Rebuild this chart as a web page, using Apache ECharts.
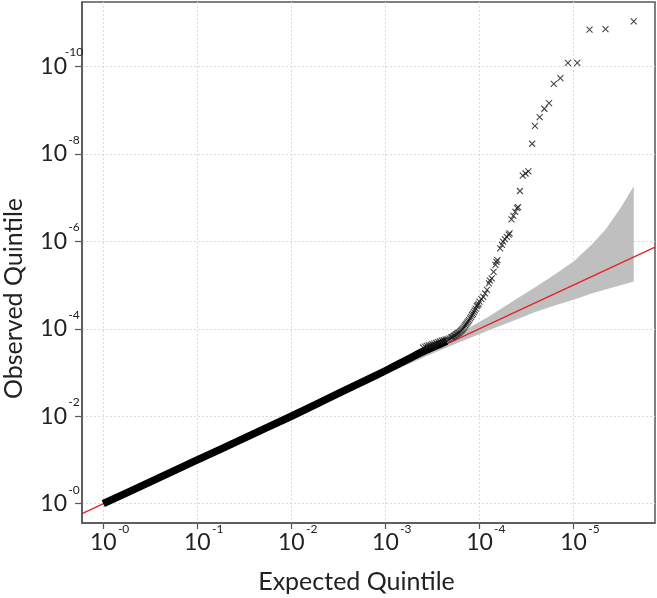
<!DOCTYPE html>
<html><head><meta charset="utf-8">
<script src="https://cdn.jsdelivr.net/npm/echarts@6/dist/echarts.min.js"></script>
<style>html,body{margin:0;padding:0;background:#fff}#c{width:657px;height:598px}</style>
</head><body><div id="c"></div><script>
// Axis ticks (-log10 scale) and their exponent labels
const xTicks = [0, 1, 2, 3, 4, 5];
const xTickExps = ['-0', '-1', '-2', '-3', '-4', '-5'];
const yTicks = [0, 2, 4, 6, 8, 10];
const yTickExps = ['-0', '-2', '-4', '-6', '-8', '-10'];
const xName = 'Expected Quintile';
const yName = 'Observed Quintile';
const xRange = [-0.226, 5.866];
const yRange = [-0.441, 11.471];

// Dense body of the QQ points (drawn as a thick run)
const bodyX = [0, 0.5, 1.0, 1.5, 2.0, 2.5, 2.8, 3.0, 3.2, 3.4, 3.55, 3.65];
const bodyY = [0, 0.5, 1.0, 1.5, 2.0, 2.52, 2.83, 3.04, 3.26, 3.48, 3.62, 3.72];

// Individual points in the tail (expected, observed)
const tailX = [3.40,3.42,3.44,3.46,3.48,3.50,3.52,3.54,3.56,3.58,3.60,3.62,3.64,3.66,3.68,3.70,3.71,3.72,3.73,3.74,3.75,3.76,3.77,3.78,3.79,3.80,3.81,3.82,3.83,3.84,3.85,3.86,3.87,3.88,3.89,3.90,3.91,3.92,3.93,3.94,3.95,3.96,3.97,3.98,3.99,4.00,4.02,4.04,4.06,4.08,4.10,4.11,4.13,4.15,4.17,4.18,4.19,4.22,4.24,4.25,4.27,4.29,4.31,4.32,4.34,4.36,4.38,4.40,4.41,4.43,4.46,4.49,4.52,4.56,4.59,4.64,4.69,4.74,4.79,4.86,4.94,5.04,5.17,5.34,5.64];
const tailY = [3.57,3.59,3.61,3.62,3.63,3.65,3.66,3.68,3.70,3.71,3.73,3.74,3.75,3.76,3.78,3.80,3.81,3.82,3.84,3.85,3.87,3.88,3.90,3.91,3.93,3.95,3.97,3.99,4.02,4.05,4.08,4.11,4.14,4.17,4.20,4.24,4.27,4.31,4.34,4.38,4.42,4.46,4.52,4.54,4.57,4.62,4.68,4.73,4.81,4.89,5.04,5.10,5.15,5.30,5.46,5.53,5.57,5.84,5.92,5.99,6.05,6.10,6.15,6.18,6.50,6.58,6.67,6.76,6.78,7.15,7.50,7.55,7.60,8.23,8.64,8.84,9.03,9.16,9.60,9.73,10.08,10.08,10.84,10.85,11.03];

// Confidence band
const bandX =     [2.6,  2.9,  3.2,  3.5,  3.8,  4.1,  4.4,  4.6,  4.8,  5.0,  5.2,  5.34, 5.5,  5.64];
const bandLower = [2.575,2.864,3.150,3.432,3.705,3.965,4.217,4.390,4.530,4.665,4.810,4.900,4.995,5.080];
const bandUpper = [2.627,2.937,3.253,3.578,3.915,4.280,4.690,4.960,5.240,5.540,5.940,6.270,6.760,7.260];

// Reference line y = x
const refX = [xRange[0], xRange[1]];

const FONT = 'Lato';
const TXT = '#222';
const richBase = {
  b: { fontSize: 23, lineHeight: 40, fontFamily: FONT, color: TXT },
  s: { fontSize: 12, lineHeight: 15, width: 14, align: 'left', verticalAlign: 'top', fontFamily: FONT, color: TXT },
  p: { width: 14, fontSize: 12 }
};

const chart = echarts.init(document.getElementById('c'), null, { renderer: 'canvas' });
chart.setOption({
  animation: false,
  backgroundColor: '#fff',
  grid: { left: 82, right: 2, top: 2, bottom: 75, show: true, borderColor: '#555', borderWidth: 1.5, containLabel: false, outerBoundsMode: 'none' },
  xAxis: {
    type: 'value', min: xRange[0], max: xRange[1],
    name: xName, nameLocation: 'middle', nameGap: 46,
    nameTextStyle: { fontSize: 25, fontFamily: FONT, color: TXT, padding: [0, 24, 0, 0] },
    axisLine: { show: true, onZero: false, lineStyle: { color: '#555', width: 1.5 } },
    axisTick: { show: true, length: 6, customValues: xTicks, lineStyle: { color: '#555', width: 1.2 } },
    axisLabel: {
      customValues: xTicks, margin: 0,
      formatter: function (v) { const i = xTicks.indexOf(Math.round(v)); return '{p|}{b|10}{s|' + xTickExps[i] + '}'; },
      rich: richBase
    },
    splitLine: { show: true, lineStyle: { color: '#dadada', width: 1, type: [2, 2] } }
  },
  yAxis: {
    type: 'value', min: yRange[0], max: yRange[1],
    name: yName, nameLocation: 'middle', nameGap: 56,
    nameTextStyle: { fontSize: 25, fontFamily: FONT, color: TXT, padding: [0, 72, 0, 0] },
    axisLine: { show: true, onZero: false, lineStyle: { color: '#555', width: 1.5 } },
    axisTick: { show: true, length: 7, customValues: yTicks, lineStyle: { color: '#555', width: 1.2 } },
    axisLabel: {
      customValues: yTicks, margin: 1,
      formatter: function (v) { const i = yTicks.indexOf(Math.round(v)); return '{b|10}{s|' + yTickExps[i] + '}'; },
      rich: richBase
    },
    splitLine: { show: true, lineStyle: { color: '#dadada', width: 1, type: [2, 2] } }
  },
  series: [
    {
      type: 'custom', silent: true, z: 1, clip: true,
      data: bandX.map((x, i) => [x, bandLower[i], bandUpper[i]]),
      encode: { x: 0, y: [1, 2] },
      renderItem: function (params, api) {
        if (params.dataIndex !== 0) return null;
        const pts = [];
        for (let i = 0; i < bandX.length; i++) pts.push(api.coord([bandX[i], bandUpper[i]]));
        for (let i = bandX.length - 1; i >= 0; i--) pts.push(api.coord([bandX[i], bandLower[i]]));
        return { type: 'polygon', shape: { points: pts }, style: { fill: '#bfbfbf' } };
      }
    },
    {
      type: 'line', z: 2, silent: true, symbol: 'none', clip: true,
      data: refX.map(x => [x, x]),
      lineStyle: { color: '#e8202a', width: 1.3 }
    },
    {
      type: 'line', z: 3, silent: true, symbol: 'none', clip: true, smooth: 0.3,
      data: bodyX.map((x, i) => [x, bodyY[i]]),
      lineStyle: { color: '#000', width: 7.5, cap: 'butt', join: 'round' }
    },
    {
      type: 'scatter', z: 4, silent: true, clip: true,
      symbol: 'path://M0,0L10,10M10,0L0,10', symbolSize: 6,
      data: tailX.map((x, i) => [x, tailY[i]]),
      itemStyle: { color: 'rgba(0,0,0,0)', borderColor: '#1a1a1a', borderWidth: 1.1 }
    }
  ]
});
</script></body></html>
